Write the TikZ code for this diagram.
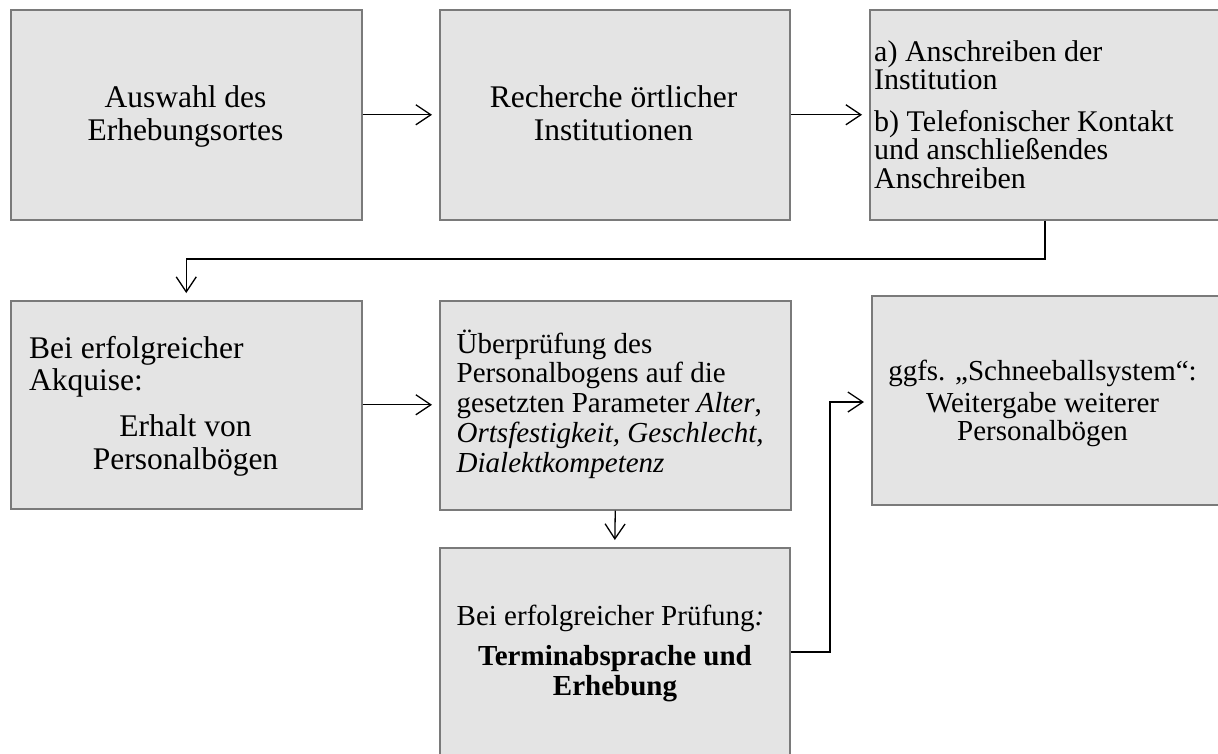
\documentclass[tikz,border=0pt]{standalone}
\usepackage{fontspec}
\setmainfont{Liberation Serif}
\usetikzlibrary{arrows.meta}
\definecolor{boxfill}{HTML}{E4E4E4}
\definecolor{boxline}{HTML}{7A7A7A}
\tikzset{
  box/.style={draw=boxline, line width=1.5pt, fill=boxfill, anchor=north west, inner sep=0pt},
  arr/.style={draw=black, line width=1.3pt, -{Straight Barb[length=15pt,width=20pt,line width=1.3pt]}, shorten >=7pt},
  big/.style={inner sep=0pt, font=\fontsize{31.5}{33}\selectfont},
  mid/.style={inner sep=0pt, font=\fontsize{30}{32}\selectfont},
  small/.style={inner sep=0pt, font=\fontsize{29}{31}\selectfont},
}
\begin{document}
\begin{tikzpicture}[x=1pt,y=-1pt]
\useasboundingbox (0,0) rectangle (1218,753);
\clip (0,0) rectangle (1218,753);
\fill[white] (0,0) rectangle (1218,753);
% boxes
\node[box, minimum width=351pt, minimum height=210pt] (A) at (10,9) {};
\node[box, minimum width=350pt, minimum height=210pt] (B) at (439,9) {};
\node[box, minimum width=380pt, minimum height=210pt] (C) at (869,9) {};
\node[box, minimum width=351pt, minimum height=208pt] (D) at (10,300) {};
\node[box, minimum width=351pt, minimum height=209pt] (E) at (439,300) {};
\node[box, minimum width=380pt, minimum height=209pt] (F) at (871,295) {};
\node[box, minimum width=350pt, minimum height=240pt] (G) at (439,547) {};
% texts A
\node[big, anchor=base] (a1) at (185.5,107) {Auswahl des};
\node[big, anchor=base] (a2) at (185.5,140) {Erhebungsortes};
% texts B
\node[big, anchor=base] (b1) at (613.5,107) {Recherche örtlicher};
\node[big, anchor=base] (b2) at (613.5,140) {Institutionen};
% texts C
\node[mid, anchor=base west] (c1t) at (874,61) {a) Anschreiben der};
\node[mid, anchor=base west] (c2t) at (874,89) {Institution};
\node[mid, anchor=base west] (c3t) at (874,131) {b) Telefonischer Kontakt};
\node[mid, anchor=base west] (c4t) at (874,159) {und anschließendes};
\node[mid, anchor=base west] (c5t) at (874,188) {Anschreiben};
% texts D
\node[big, anchor=base west] (d1) at (29,358) {Bei erfolgreicher};
\node[big, anchor=base west] (d2) at (29,390) {Akquise:};
\node[big, anchor=base] (d3) at (185.5,436) {Erhalt von};
\node[big, anchor=base] (d4) at (185.5,469) {Personalbögen};
% texts E
\node[small, anchor=base west] (e1) at (456.5,353) {Überprüfung des};
\node[small, anchor=base west] (e2) at (456.5,382) {Personalbogens auf die};
\node[small, anchor=base west] (e3) at (456.5,412) {gesetzten Parameter \textit{Alter},};
\node[small, anchor=base west] (e4) at (456.5,442) {\textit{Ortsfestigkeit, Geschlecht,}};
\node[small, anchor=base west] (e5) at (456.5,472) {\textit{Dialektkompetenz}};
% texts F
\node[small, anchor=base] (f1) at (1042.5,380) {ggfs. „Schneeballsystem“:};
\node[small, anchor=base] (f2) at (1042.5,412) {Weitergabe weiterer};
\node[small, anchor=base] (f3) at (1042.5,440) {Personalbögen};
% texts G
\node[small, anchor=base] (g1) at (610.5,625) {Bei erfolgreicher Prüfung\textit{:}};
\node[small, anchor=base] (g2) at (615,665) {\textbf{Terminabsprache und}};
\node[small, anchor=base] (g3) at (615,695) {\textbf{Erhebung}};
% connectors
\coordinate (k1) at (1045,259);
\coordinate (k2) at (830,652);
\coordinate (k3) at (830,402);
\draw[arr] (A.east) -- (B.west);
\draw[arr] (B.east) -- (C.west);
\draw[arr] (C.south -| k1) -- (k1) -- (k1 -| D.north) -- (D.north);
\draw[arr] (D.east) -- (E.west |- D.east);
\draw[arr] (E.south) -- (G.north);
\draw[arr] (G.east |- k2) -- (k2) -- (k3) -- (F.west |- k3);
\end{tikzpicture}
\end{document}
